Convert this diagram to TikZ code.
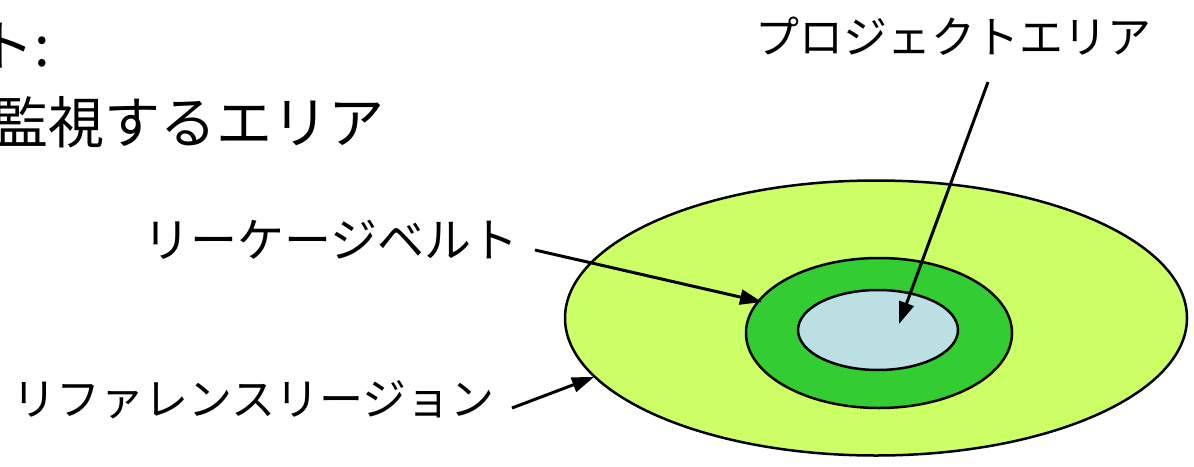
\documentclass[tikz,border=0pt]{standalone}
\usepackage{fontspec}
\newfontfamily\jp{Noto Sans CJK JP}
\usetikzlibrary{arrows.meta,shapes.geometric}
\definecolor{outerc}{HTML}{CCFF66}
\definecolor{midc}{HTML}{33CC33}
\definecolor{innerc}{HTML}{BBDFE3}
\tikzset{
  region/.style={ellipse,draw=black,line width=2.5pt,inner sep=0pt},
  lbl/.style={inner sep=0pt,font=\jp\fontsize{44}{50}\selectfont},
  big/.style={inner sep=0pt,font=\jp\fontsize{56}{62}\selectfont},
  pointer/.style={line width=3pt,-{Triangle[length=22pt,width=15pt]}}
}
\begin{document}
\begin{tikzpicture}[x=1pt,y=-1pt]
\useasboundingbox (0,0) rectangle (1194,466);
\node[region,fill=outerc,minimum width=622pt,minimum height=275pt] (outer) at (876,318) {};
\node[region,fill=midc,minimum width=266pt,minimum height=150pt] (mid) at (879,333) {};
\node[region,fill=innerc,minimum width=160pt,minimum height=80pt] (inner) at (878,330) {};
\node[big,anchor=west] (t1) at (-22,46) {ト:};
\node[big,anchor=west] (t2) at (-8,122) {監視するエリア};
\node[lbl] (pa) at (953,36) {プロジェクトエリア};
\node[lbl,anchor=west,font=\jp\fontsize{47}{52}\selectfont] (lb) at (143,240) {リーケージベルト};
\node[lbl,anchor=west] (rr) at (12,400) {リファレンスリージョン};
\coordinate (pas) at (988,82);
\coordinate (pat) at (899,324);
\coordinate (lbs) at (535,250);
\coordinate (lbt) at (762,302);
\coordinate (rrs) at (512,408);
\coordinate (rrt) at (594,377);
\draw[pointer] (pas) -- (pat);
\draw[pointer] (lbs) -- (lbt);
\draw[pointer] (rrs) -- (rrt);
\end{tikzpicture}
\end{document}
